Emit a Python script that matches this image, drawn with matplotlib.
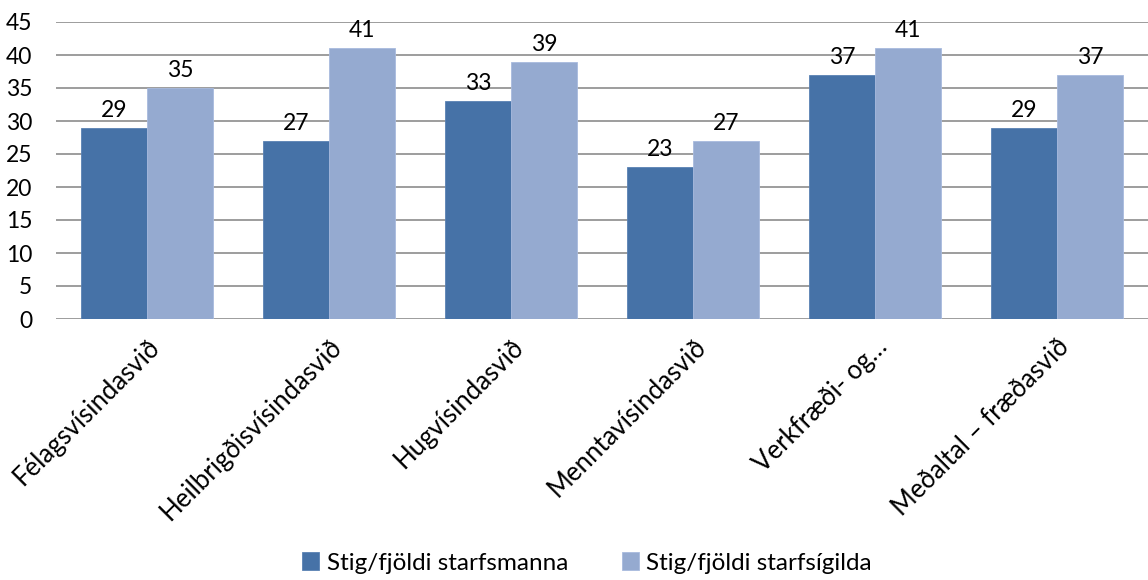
import matplotlib
matplotlib.use("Agg")
import matplotlib.pyplot as plt
import numpy as np

categories = ["Félagsvísindasvið", "Heilbrigðisvísindasvið", "Hugvísindasvið",
              "Menntavísindasvið", "Verkfræði- og…", "Meðaltal – fræðasvið"]
series_names = ["Stig/fjöldi starfsmanna", "Stig/fjöldi starfsígilda"]
staff = [29, 27, 33, 23, 37, 29]
fte = [35, 41, 39, 27, 41, 37]
yticks = [0, 5, 10, 15, 20, 25, 30, 35, 40, 45]

plt.rcParams['font.family'] = ['Lato', 'DejaVu Sans']
FS_NUM = 16.5
FS_TXT = 18.5
FS_LEG = 17.5

fig = plt.figure(figsize=(11.48, 5.8), dpi=100)
ax = fig.add_axes([56/1148, 1-319/580, 1-56/1148, (319-22)/580])

x = np.arange(len(categories))
w = 0.3625
c1, c2 = "#4672A7", "#95AAD0"
b1 = ax.bar(x - w/2, staff, w, color=c1, edgecolor="#5a82b4", linewidth=0.6, label=series_names[0], zorder=3)
b2 = ax.bar(x + w/2, fte, w, color=c2, edgecolor="#a8bade", linewidth=0.6, label=series_names[1], zorder=3)

for bars, vals in ((b1, staff), (b2, fte)):
    for r, v in zip(bars, vals):
        ax.annotate(str(v), (r.get_x() + r.get_width()/2, v), xytext=(0, 5),
                    textcoords="offset points", ha="center", va="bottom", fontsize=FS_NUM)

ax.set_xlim(-0.5, len(categories) - 0.5)
ax.set_ylim(0, 45)
ax.set_yticks(yticks)
ax.set_yticklabels([str(t) for t in yticks], fontsize=FS_NUM)
ax.yaxis.grid(True, color="#8c8c8c", linewidth=1.2, zorder=0)
ax.set_axisbelow(True)
for s in ax.spines.values():
    s.set_visible(False)
ax.tick_params(axis="y", length=0, pad=17)
ax.tick_params(axis="x", length=0, pad=11)
ax.set_xticks(x)
ax.set_xticklabels(categories, rotation=45, ha="right", va="top", rotation_mode="anchor", fontsize=FS_TXT)

fig.legend(handles=[b1, b2], labels=series_names, loc="center", bbox_to_anchor=(587/1148, 1-563/580),
           ncol=2, frameon=False, fontsize=FS_LEG, handlelength=0.7, handleheight=0.7,
           handletextpad=0.3, columnspacing=2.2)

fig.savefig("out.png", dpi=100)
